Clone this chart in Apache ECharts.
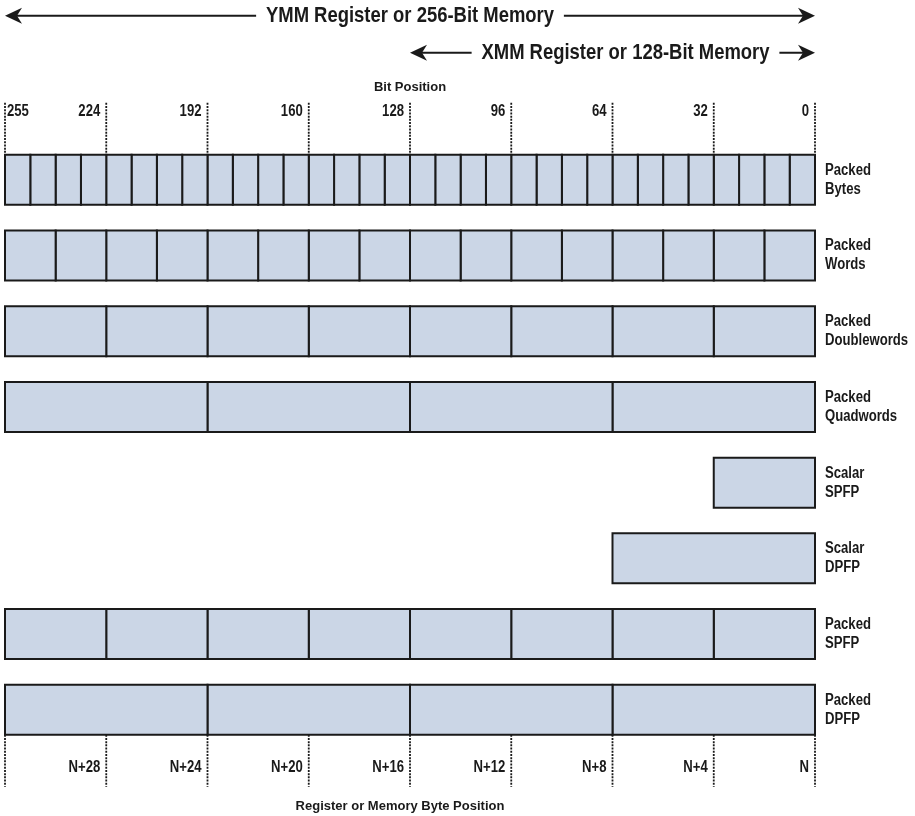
<!DOCTYPE html>
<html>
<head>
<meta charset="utf-8">
<script src="https://cdn.jsdelivr.net/npm/echarts@6/dist/echarts.min.js"></script>
<style>
  html, body { margin: 0; padding: 0; background: #fff; }
  #main { width: 915px; height: 816px; }
</style>
</head>
<body>
<div id="main"></div>
<script>
// rows of the diagram, top to bottom
var rowNames = ['Packed\nBytes', 'Packed\nWords', 'Packed\nDoublewords', 'Packed\nQuadwords',
  'Scalar\nSPFP', 'Scalar\nDPFP', 'Packed\nSPFP', 'Packed\nDPFP'];
var elementBits = [8, 16, 32, 64, 32, 64, 32, 64];   // width of one element
var regionBits = [256, 256, 256, 256, 32, 64, 256, 256]; // bits covered, from bit 0

// top scale
var bitTicks = [256, 224, 192, 160, 128, 96, 64, 32, 0];
var bitLabels = ['255', '224', '192', '160', '128', '96', '64', '32', '0'];
// bottom scale
var byteLabels = ['', 'N+28', 'N+24', 'N+20', 'N+16', 'N+12', 'N+8', 'N+4', 'N'];

// register spans
var spanNames = ['YMM Register or 256-Bit Memory', 'XMM Register or 128-Bit Memory'];
var spanBits = [256, 128];

var FONT = "'Liberation Sans', Arial, sans-serif";
var NARROW = 0.82; // squeeze to mimic a condensed face
var INK = '#1a1a1a';

var cells = [];
rowNames.forEach(function (n, r) {
  for (var b = 0; b < regionBits[r]; b += elementBits[r]) {
    cells.push([b, r, b + elementBits[r]]);
  }
});

var chart = echarts.init(document.getElementById('main'));

function narrowText(str, x, y, size, align, extra) {
  var style = {
    text: str, x: 0, y: 0, align: align, verticalAlign: 'middle',
    font: 'bold ' + size + 'px ' + FONT, fill: INK
  };
  if (extra) Object.assign(style, extra);
  return { type: 'text', x: x, y: y, scaleX: NARROW, style: style };
}

function renderCell(params, api) {
  var s = api.value(0), row = api.value(1), e = api.value(2);
  var p1 = api.coord([s, row]);
  var p2 = api.coord([e, row]);
  var h = api.size([0, 1])[1] * 0.66;
  var x = Math.min(p1[0], p2[0]);
  var w = Math.abs(p1[0] - p2[0]);
  return {
    type: 'rect',
    shape: { x: x, y: p1[1] - h / 2, width: w, height: h },
    style: { fill: '#cbd6e6', stroke: INK, lineWidth: 2 }
  };
}

function renderRowName(params, api) {
  var p = api.coord([0, api.value(0)]);
  return narrowText(rowNames[params.dataIndex], p[0] + 10, p[1], 16, 'left', { lineHeight: 19 });
}

function dashLine(x, y1, y2) {
  return {
    type: 'line',
    shape: { x1: x, y1: y1, x2: x, y2: y2 },
    style: { stroke: INK, lineWidth: 1.8, lineDash: [2, 1.2] }
  };
}

function renderTopTick(params, api) {
  var i = params.dataIndex;
  var p = api.coord([api.value(0), 0]);
  var h = api.size([0, 1])[1] * 0.66;
  var top = p[1] - h / 2;
  var first = i === 0;
  return {
    type: 'group',
    children: [
      dashLine(p[0], top - 52, top),
      narrowText(bitLabels[i], first ? p[0] + 2 : p[0] - 6, top - 43, 16, first ? 'left' : 'right')
    ]
  };
}

function renderBottomTick(params, api) {
  var i = params.dataIndex;
  var p = api.coord([api.value(0), rowNames.length - 1]);
  var h = api.size([0, 1])[1] * 0.66;
  var bot = p[1] + h / 2;
  return {
    type: 'group',
    children: [
      dashLine(p[0], bot, bot + 52),
      narrowText(byteLabels[i], p[0] - 6, bot + 33, 16, 'right')
    ]
  };
}

function arrowHead(x, y, dir) {
  // dir = -1 points left, 1 points right
  return {
    type: 'polygon',
    shape: { points: [[x, y], [x - dir * 17, y - 8], [x - dir * 12, y], [x - dir * 17, y + 8]] },
    style: { fill: INK }
  };
}

var spanOffsets = [-164, -127];
var spanShift = [0, 13];
function renderSpan(params, api) {
  var i = params.dataIndex;
  var a = api.coord([api.value(0), 0]);
  var b = api.coord([0, 0]);
  var y = a[1] + spanOffsets[i];
  var L = Math.min(a[0], b[0]), R = Math.max(a[0], b[0]);
  return {
    type: 'group',
    children: [
      { type: 'line', shape: { x1: L + 10, y1: y, x2: R - 10, y2: y }, style: { stroke: INK, lineWidth: 2 } },
      arrowHead(L, y, -1),
      arrowHead(R, y, 1),
      narrowText(spanNames[i], (L + R) / 2 + spanShift[i], y, 22.5, 'center',
        { backgroundColor: '#fff', padding: [0, 12] })
    ]
  };
}

var xBase = { type: 'value', min: 0, max: 256, inverse: true,
  axisLine: { show: false }, axisTick: { show: false }, axisLabel: { show: false }, splitLine: { show: false },
  nameLocation: 'middle', nameTextStyle: { fontFamily: FONT, fontWeight: 'bold', fontSize: 13, color: INK } };

chart.setOption({
  animation: false,
  grid: { left: 5, right: 100, top: 142, height: 605.6, containLabel: false, outerBoundsMode: 'none' },
  xAxis: [
    Object.assign({}, xBase, { position: 'top', name: 'Bit Position', nameGap: 48 }),
    Object.assign({}, xBase, { position: 'bottom', name: 'Register or Memory Byte Position', nameGap: 52,
      nameTextStyle: Object.assign({}, xBase.nameTextStyle, { padding: [0, 20, 0, 0] }) })
  ],
  yAxis: {
    type: 'category', data: rowNames, inverse: true,
    axisLine: { show: false }, axisTick: { show: false }, splitLine: { show: false }, axisLabel: { show: false }
  },
  series: [
    { type: 'custom', name: 'cells', renderItem: renderCell, data: cells, encode: { x: [0, 2], y: 1 } },
    { type: 'custom', name: 'rows', renderItem: renderRowName, data: rowNames.map(function (n, r) { return [r]; }), encode: { y: 0 } },
    { type: 'custom', name: 'bits', renderItem: renderTopTick, data: bitTicks.map(function (b) { return [b]; }), encode: { x: 0 } },
    { type: 'custom', name: 'bytes', renderItem: renderBottomTick, data: bitTicks.map(function (b) { return [b]; }), encode: { x: 0 } },
    { type: 'custom', name: 'spans', renderItem: renderSpan, data: spanBits.map(function (b) { return [b]; }), encode: { x: 0 } }
  ]
});
</script>
</body>
</html>
